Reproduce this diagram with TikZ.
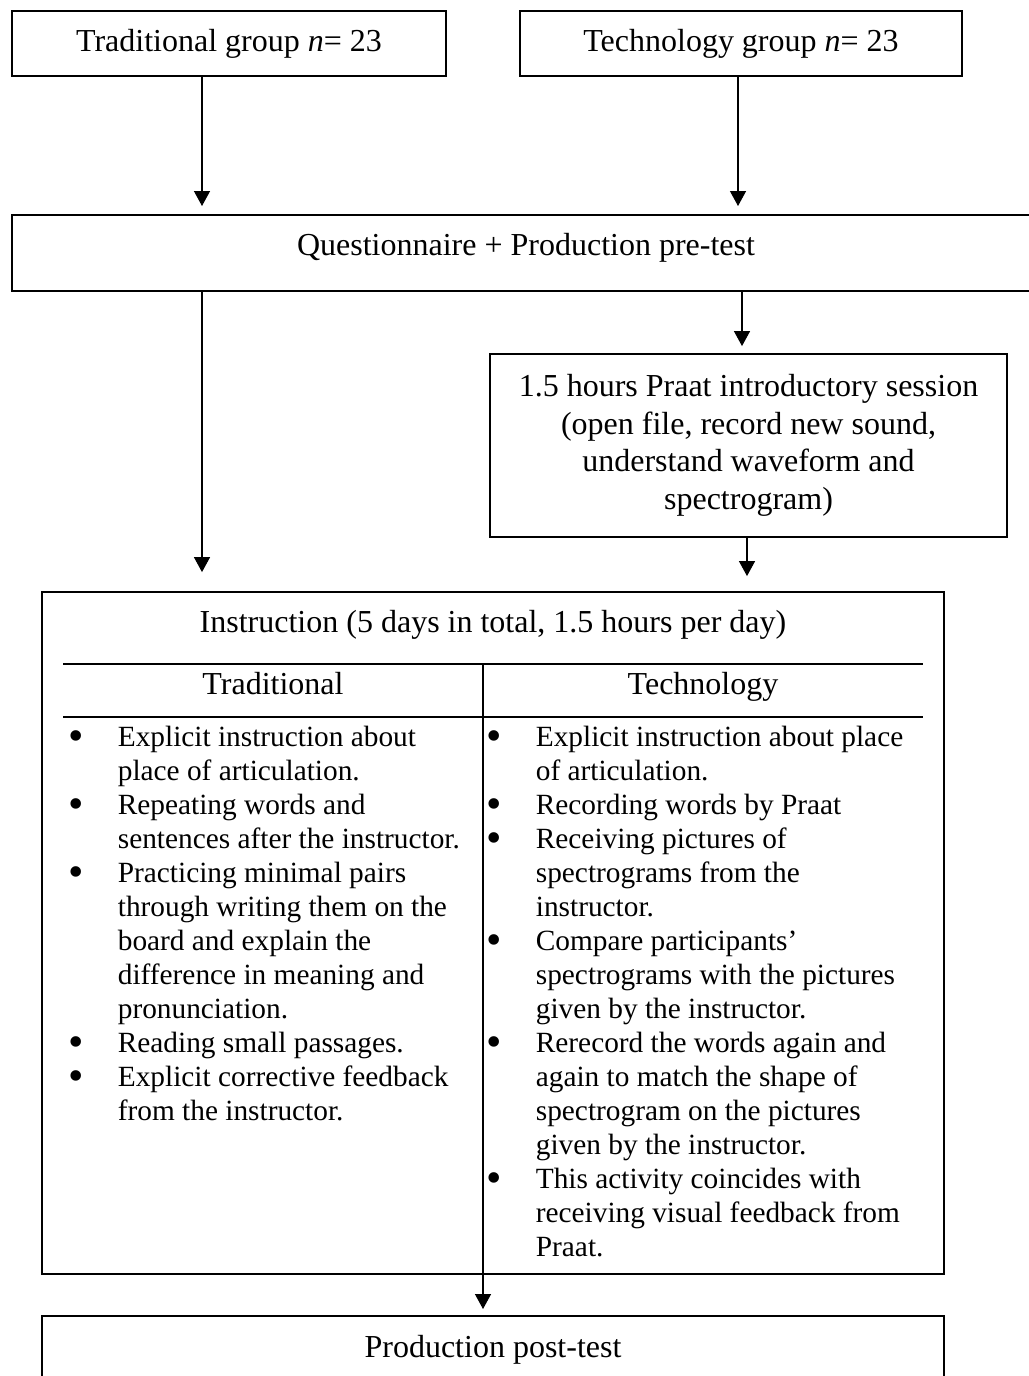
\documentclass[tikz,border=0pt]{standalone}
\usepackage{fontspec}
\setmainfont{Liberation Serif}
\usepackage{array}
\usepackage{graphicx}
\usetikzlibrary{arrows.meta}

\newcommand{\pxu}{0.375pt}
\newcommand{\bodyfont}{\fontsize{12pt}{14.06pt}\selectfont}
\newcommand{\listfont}{\fontsize{11pt}{12.75pt}\selectfont}
\newcommand{\bul}{\smash{\raisebox{-1.8pt}{\scalebox{1.5}{\textbullet}}}}

\begin{document}
\begin{tikzpicture}[x=0.375pt, y=-0.375pt,
  box/.style={draw, line width=0.75pt, inner sep=0pt, font=\bodyfont, align=center},
  conn/.style={-{Triangle[length=5.6pt,width=6pt]}, line width=0.4pt},
  rule/.style={line width=0.6pt}]
  \useasboundingbox (0,0) rectangle (1028,1376);

  % groups
  \node[box, minimum width=434*\pxu, minimum height=65*\pxu] (trad) at (229,43.5) {Traditional group \textit{n}= 23};
  \node[box, minimum width=442*\pxu, minimum height=65*\pxu] (tech) at (741,43.5) {Technology group \textit{n}= 23};
  \node[box, minimum width=1028*\pxu, minimum height=76*\pxu, text depth=6.75pt] (quest) at (526,253) {Questionnaire + Production pre-test};
  \node[box, minimum width=517*\pxu, minimum height=183*\pxu] (praat) at (748.5,445.5)
    {1.5 hours Praat introductory session\\(open file, record new sound,\\understand waveform and\\spectrogram)};
  \node[box, minimum width=902*\pxu, minimum height=682*\pxu] (instr) at (493,933) {};
  \node[box, minimum width=902*\pxu, minimum height=84*\pxu, text depth=9pt] (post) at (493,1358) {Production post-test};

  % table inside the instruction box
  \node[anchor=base, font=\bodyfont] (title) at (493,632) {Instruction (5 days in total, 1.5 hours per day)};
  \draw[rule] (63,664) -- (923,664);
  \draw[rule] (63,717) -- (923,717);
  \coordinate (mid) at (483,664);
  \draw[line width=0.4pt] (mid) -- (mid |- instr.south);
  \node[anchor=base, font=\bodyfont] (hdtrad) at (273,694) {Traditional};
  \node[anchor=base, font=\bodyfont] (hdtech) at (703,694) {Technology};

  \node[anchor=base west, inner sep=0pt, font=\listfont] (listtrad) at (68,746)
    {\begin{tabular}[t]{@{}p{18.5pt}@{}l@{}}
     \bul & Explicit instruction about\\
     & place of articulation.\\
     \bul & Repeating words and\\
     & sentences after the instructor.\\
     \bul & Practicing minimal pairs\\
     & through writing them on the\\
     & board and explain the\\
     & difference in meaning and\\
     & pronunciation.\\
     \bul & Reading small passages.\\
     \bul & Explicit corrective feedback\\
     & from the instructor.
     \end{tabular}};
  \node[anchor=base west, inner sep=0pt, font=\listfont] (listtech) at (486,746)
    {\begin{tabular}[t]{@{}p{18.5pt}@{}l@{}}
     \bul & Explicit instruction about place\\
     & of articulation.\\
     \bul & Recording words by Praat\\
     \bul & Receiving pictures of\\
     & spectrograms from the\\
     & instructor.\\
     \bul & Compare participants’\\
     & spectrograms with the pictures\\
     & given by the instructor.\\
     \bul & Rerecord the words again and\\
     & again to match the shape of\\
     & spectrogram on the pictures\\
     & given by the instructor.\\
     \bul & This activity coincides with\\
     & receiving visual feedback from\\
     & Praat.
     \end{tabular}};

  % arrows
  \coordinate (lcol) at (202,0);
  \coordinate (rcolA) at (738,0);
  \coordinate (rcolB) at (742,0);
  \coordinate (rcolC) at (747,0);
  \draw[conn, shorten >=3pt] (trad.south -| lcol) -- (quest.north -| lcol);
  \draw[conn, shorten >=3pt] (tech.south -| rcolA) -- (quest.north -| rcolA);
  \draw[conn, shorten >=7.1pt] (quest.south -| lcol) -- (instr.north -| lcol);
  \draw[conn, shorten >=2.6pt] (quest.south -| rcolB) -- (praat.north -| rcolB);
  \draw[conn, shorten >=5.6pt] (praat.south -| rcolC) -- (instr.north -| rcolC);
  \draw[conn, shorten >=2.25pt] (mid |- instr.south) -- (mid |- post.north);
\end{tikzpicture}
\end{document}
